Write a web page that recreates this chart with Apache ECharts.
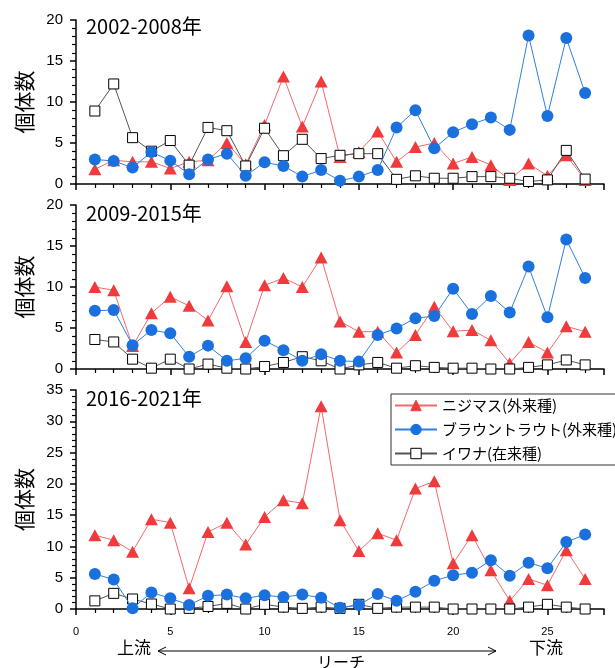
<!DOCTYPE html>
<html><head><meta charset="utf-8">
<script src="https://cdn.jsdelivr.net/npm/echarts@6/dist/echarts.min.js"></script>
<style>html,body{margin:0;padding:0;background:#fff}#c{width:615px;height:668px}</style>
</head><body><div id="c"></div>
<script>
const reaches = [1,2,3,4,5,6,7,8,9,10,11,12,13,14,15,16,17,18,19,20,21,22,23,24,25,26,27];
const periodTitles = ['2002-2008年', '2009-2015年', '2016-2021年'];
const speciesNames = ['ニジマス(外来種)', 'ブラウントラウト(外来種)', 'イワナ(在来種)'];
const yMaxes = [20, 20, 35];

// 2002-2008
const p1Niji  = [1.8,2.9,2.7,2.7,1.9,2.7,2.9,5.0,2.4,7.2,13.1,7.0,12.5,3.3,3.9,6.4,2.7,4.5,5.0,2.5,3.3,2.3,0.5,2.5,1.0,3.5,0.5];
const p1Brown = [3.0,2.8,2.0,3.9,2.85,1.2,3.0,3.7,1.0,2.65,2.2,0.9,1.7,0.4,0.9,1.7,6.9,9.0,4.35,6.3,7.3,8.1,6.6,18.1,8.3,17.8,11.1];
const p1Iwana = [8.9,12.2,5.65,4.0,5.3,2.3,6.9,6.5,2.2,6.8,3.45,5.45,3.1,3.5,3.7,3.7,0.57,1.0,0.7,0.7,0.9,0.9,0.7,0.3,0.5,4.1,0.6];
// 2009-2015
const p2Niji  = [10.0,9.6,2.8,6.8,8.8,7.7,5.9,10.1,3.3,10.2,11.1,10.0,13.6,5.8,4.55,4.55,2.0,4.15,7.6,4.6,4.75,3.5,0.7,3.3,2.0,5.2,4.55];
const p2Brown = [7.1,7.2,2.9,4.75,4.35,1.5,2.85,1.0,1.3,3.45,2.3,1.0,1.8,1.0,0.9,4.15,4.95,6.2,6.45,9.8,6.7,8.9,6.9,12.5,6.3,15.8,11.1];
const p2Iwana = [3.6,3.3,1.2,0.1,1.2,0,0.6,0.1,0,0.3,0.8,1.5,1.0,0,0.5,0.8,0.1,0.4,0.2,0.1,0.1,0,0,0.2,0.5,1.1,0.5];
// 2016-2021
const p3Niji  = [11.8,11.0,9.15,14.35,13.8,3.3,12.3,13.8,10.3,14.7,17.4,16.9,32.4,14.2,9.25,12.1,11.0,19.25,20.4,7.3,11.8,6.2,1.3,4.8,3.8,9.4,4.8];
const p3Brown = [5.6,4.7,0.1,2.65,1.7,0.65,2.1,2.3,1.7,2.2,1.9,2.3,1.8,0.2,0.65,2.4,1.3,2.75,4.5,5.4,5.8,7.8,5.3,7.4,6.5,10.7,11.9];
const p3Iwana = [1.3,2.5,1.6,0.8,0,0.1,0.4,0.9,0,0.75,0.3,0.1,0.3,0.1,0.75,0.1,0.3,0.3,0.3,0,0,0,0,0.3,0.75,0.3,0];

const panels = [[p1Niji,p1Brown,p1Iwana],[p2Niji,p2Brown,p2Iwana],[p3Niji,p3Brown,p3Iwana]];

const gridBoxes = [
  {left:76, top:20, width:528, height:164},
  {left:76, top:205, width:528, height:164},
  {left:76, top:390, width:528, height:219}
];
const NUM_FONT = 'Liberation Sans, Arial, sans-serif';
const JP_FONT = 'Noto Sans CJK JP, sans-serif';

const styles = [
  {color:'#ef3b3b', line:'#f26a6a', symbol:'triangle', size:[13,12], border:'#ef3b3b', bw:0},
  {color:'#1a70dc', line:'#2f7fe0', symbol:'circle', size:12, border:'#1a70dc', bw:0},
  {color:'#ffffff', line:'#555555', symbol:'rect', size:10, border:'#000000', bw:1}
];

const xAxes = gridBoxes.map((g,i)=>({
  type:'value', gridIndex:i, min:0, max:28, interval:5,
  axisLine:{show:true, onZero:false, lineStyle:{color:'#000', width:1.5}},
  axisTick:{show:true, length:6, lineStyle:{color:'#000', width:1.5}},
  minorTick:{show:true, splitNumber:5, length:4, lineStyle:{color:'#000', width:1.2}},
  splitLine:{show:false},
  axisLabel:{show:i===2, showMaxLabel:false, fontSize:11, color:'#000', fontFamily:NUM_FONT, margin:17}
}));
const yAxes = gridBoxes.map((g,i)=>({
  type:'value', gridIndex:i, min:0, max:yMaxes[i], interval:5,
  name:'個体数', nameLocation:'middle', nameGap:41, nameRotate:90,
  nameTextStyle:{fontSize:21, color:'#000', fontFamily:JP_FONT},
  axisLine:{show:true, lineStyle:{color:'#000', width:1.5}},
  axisTick:{show:true, length:6, lineStyle:{color:'#000', width:1.5}},
  minorTick:{show:true, splitNumber:5, length:4, lineStyle:{color:'#000', width:1.2}},
  splitLine:{show:false},
  axisLabel:{fontSize:15, color:'#000', fontFamily:NUM_FONT, margin:13}
}));

const series = [];
panels.forEach((arrs, pi)=>{
  arrs.forEach((vals, si)=>{
    const s = styles[si];
    series.push({
      type:'line', name:speciesNames[si], xAxisIndex:pi, yAxisIndex:pi,
      data: reaches.map((r,k)=>[r, vals[k]]),
      symbol:s.symbol, symbolSize:s.size, showAllSymbol:true,
      lineStyle:{color:s.line, width:1},
      itemStyle:{color:s.color, borderColor:s.border, borderWidth:s.bw},
      z: si===2 ? 3 : (si===1 ? 4 : 2),
      animation:false
    });
  });
});

const graphics = periodTitles.map((t,i)=>({
  type:'text', left:86, top:gridBoxes[i].top + (i===0 ? -4 : -2),
  style:{text:t, fontSize:20, fill:'#000', fontFamily:JP_FONT}
}));
graphics.push(
  {type:'text', left:117, top:639, style:{text:'上流', fontSize:17, fill:'#000', fontFamily:JP_FONT}},
  {type:'text', left:529, top:639, style:{text:'下流', fontSize:17, fill:'#000', fontFamily:JP_FONT}},
  {type:'text', left:317, top:654, style:{text:'リーチ', fontSize:16, fill:'#000', fontFamily:JP_FONT}},
  {type:'line', shape:{x1:158, y1:651, x2:496, y2:651}, style:{stroke:'#000', lineWidth:1}},
  {type:'polyline', shape:{points:[[166,647],[158,651],[166,655]]}, style:{stroke:'#000', lineWidth:1, fill:null}},
  {type:'polyline', shape:{points:[[488,647],[496,651],[488,655]]}, style:{stroke:'#000', lineWidth:1, fill:null}}
);

const chart = echarts.init(document.getElementById('c'), null, {renderer:'canvas'});
chart.setOption({
  animation:false,
  backgroundColor:'#fff',
  grid: gridBoxes.map(g=>Object.assign({containLabel:false}, g)),
  xAxis: xAxes,
  yAxis: yAxes,
  legend:{
    data: speciesNames, orient:'vertical', left:391, top:394,
    borderColor:'#333', borderWidth:1, borderRadius:0, padding:[4,4,4,3],
    itemWidth:42, itemHeight:13, itemGap:9,
    itemStyle:{borderWidth:1},
    textStyle:{fontSize:15, color:'#000', fontFamily:JP_FONT},
    backgroundColor:'#fff'
  },
  series: series,
  graphic: graphics
});
</script></body></html>
